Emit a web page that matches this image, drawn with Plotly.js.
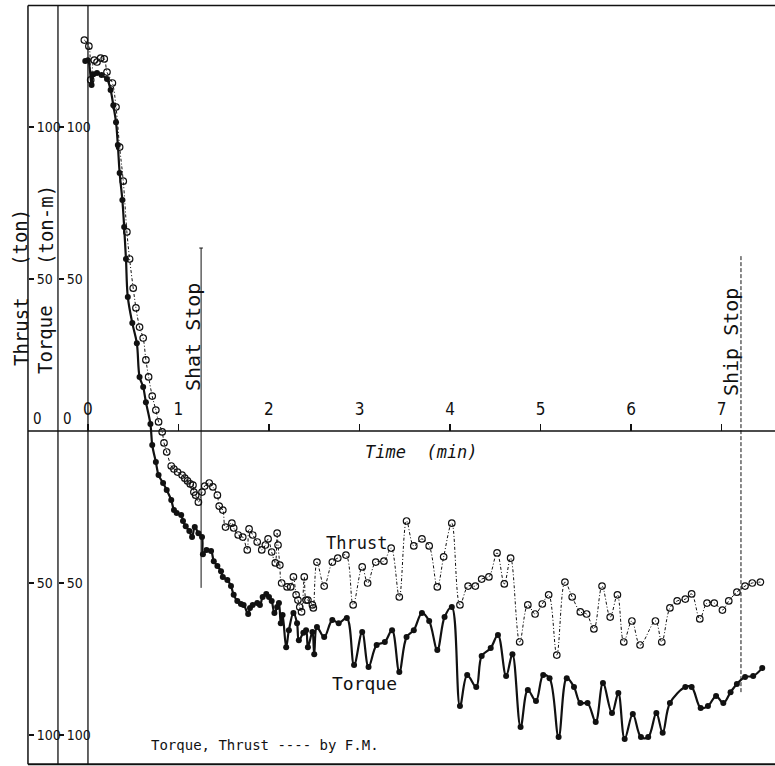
<!DOCTYPE html>
<html>
<head>
<meta charset="utf-8">
<script src="https://cdn.plot.ly/plotly-3.0.1.min.js"></script>
<style>html,body{margin:0;padding:0;background:#fff;}#chart{width:775px;height:766px;}</style>
</head>
<body>
<div id="chart"></div>
<script>
// ---- data (time in min, thrust in ton, torque in ton-m) ----
const thrustTime = [-0.04,0.01,0.03,0.07,0.10,0.14,0.18,0.21,0.27,0.31,0.35,0.39,0.43,0.46,0.50,0.53,0.57,0.61,0.64,0.67,0.71,0.75,0.78,0.82,0.84,0.87,0.92,0.95,0.99,1.04,1.07,1.10,1.13,1.16,1.17,1.19,1.22,1.26,1.29,1.34,1.38,1.43,1.45,1.49,1.52,1.59,1.61,1.66,1.71,1.76,1.78,1.82,1.87,1.92,1.96,1.99,2.03,2.07,2.09,2.10,2.12,2.14,2.20,2.24,2.27,2.30,2.32,2.34,2.36,2.39,2.41,2.43,2.48,2.49,2.53,2.61,2.70,2.76,2.85,2.93,3.03,3.09,3.18,3.27,3.35,3.44,3.52,3.60,3.69,3.77,3.86,3.93,4.02,4.11,4.20,4.28,4.35,4.43,4.52,4.60,4.67,4.77,4.86,4.94,5.02,5.09,5.18,5.27,5.35,5.44,5.51,5.59,5.68,5.77,5.85,5.92,6.01,6.10,6.27,6.34,6.43,6.51,6.60,6.67,6.76,6.84,6.92,7.01,7.08,7.17,7.26,7.34,7.43];
const thrustVal = [128.6,126.6,115.5,122.0,121.4,122.7,122.4,118.1,114.5,106.6,93.4,82.2,65.5,56.6,47.0,40.5,34.2,30.6,23.4,17.8,11.5,6.9,3.0,-0.3,-3.9,-6.9,-11.5,-12.5,-13.5,-14.5,-15.5,-16.4,-17.4,-17.8,-20.1,-21.1,-23.4,-20.1,-18.1,-17.1,-18.4,-21.1,-24.7,-26.0,-31.6,-30.3,-31.9,-34.2,-34.9,-39.1,-32.2,-34.2,-36.5,-39.1,-37.5,-35.5,-39.8,-43.4,-33.6,-37.5,-44.1,-50.0,-51.3,-51.3,-48.0,-53.9,-55.6,-57.9,-59.5,-48.0,-55.6,-55.6,-57.2,-58.2,-43.1,-51.0,-43.1,-41.8,-40.8,-57.2,-44.7,-50.0,-43.1,-42.8,-38.5,-54.6,-29.6,-37.8,-35.5,-37.8,-51.3,-41.4,-30.3,-57.2,-51.0,-51.0,-48.7,-48.0,-40.1,-50.3,-41.8,-69.4,-57.2,-60.2,-56.9,-53.9,-73.7,-49.7,-54.6,-59.5,-60.2,-65.1,-51.0,-61.2,-53.9,-69.4,-62.5,-70.4,-62.5,-69.4,-58.2,-55.9,-55.3,-53.6,-61.8,-56.6,-56.6,-58.9,-55.9,-53.0,-51.0,-50.0,-49.7];

const torqueTime = [-0.03,0.00,0.04,0.06,0.10,0.15,0.21,0.25,0.28,0.31,0.33,0.35,0.38,0.40,0.42,0.44,0.49,0.54,0.57,0.61,0.64,0.69,0.71,0.75,0.78,0.83,0.87,0.92,0.95,0.98,1.03,1.05,1.08,1.12,1.15,1.18,1.22,1.26,1.27,1.31,1.36,1.39,1.43,1.47,1.49,1.54,1.58,1.61,1.65,1.69,1.72,1.77,1.79,1.82,1.87,1.90,1.93,1.97,2.00,2.03,2.06,2.09,2.11,2.13,2.15,2.19,2.22,2.27,2.31,2.33,2.38,2.41,2.43,2.48,2.50,2.53,2.61,2.70,2.77,2.86,2.94,3.03,3.10,3.19,3.28,3.36,3.44,3.52,3.60,3.69,3.77,3.86,3.94,4.02,4.11,4.19,4.29,4.35,4.45,4.53,4.62,4.69,4.78,4.86,4.95,5.03,5.10,5.20,5.29,5.37,5.44,5.52,5.61,5.69,5.79,5.86,5.93,6.02,6.11,6.19,6.28,6.35,6.43,6.60,6.67,6.77,6.85,6.94,7.02,7.10,7.17,7.26,7.35,7.45];
const torqueVal = [121.7,122.0,113.8,117.4,117.8,117.1,115.8,112.2,107.2,101.6,94.1,84.9,76.0,67.1,56.6,44.1,35.5,28.9,17.8,14.5,9.5,2.3,-4.6,-10.2,-14.5,-17.1,-19.4,-22.7,-26.0,-27.0,-27.6,-29.6,-31.3,-32.9,-34.9,-31.6,-33.6,-34.9,-40.5,-39.1,-39.5,-42.8,-44.4,-46.1,-48.0,-49.0,-51.0,-53.9,-55.9,-56.9,-57.2,-60.2,-58.2,-57.2,-56.6,-57.2,-54.6,-53.6,-54.6,-55.9,-59.9,-57.9,-56.6,-63.2,-60.5,-71.1,-65.5,-59.9,-63.2,-68.8,-66.4,-65.5,-71.1,-66.1,-73.4,-64.5,-67.8,-62.2,-63.2,-61.5,-77.0,-66.1,-77.6,-70.4,-69.4,-65.5,-79.3,-67.8,-65.5,-59.9,-62.5,-72.0,-61.2,-57.9,-90.5,-80.3,-84.2,-74.0,-71.4,-67.1,-80.6,-73.4,-97.4,-85.2,-88.8,-80.3,-81.3,-100.7,-81.3,-84.2,-89.5,-89.5,-95.7,-82.9,-92.8,-86.2,-101.3,-93.1,-100.7,-100.7,-92.8,-99.3,-89.5,-84.2,-84.2,-91.1,-90.5,-87.2,-89.5,-85.9,-83.2,-80.9,-80.6,-78.0];

const xTickVals = [0,1,2,3,4,5,6,7];
const xTickText = ['0','1','2','3','4','5','6','7'];
const yTickVals = [100,50,-50,-100];
const yTickText = ['100','50','50','100'];
const shaftStopTime = 1.25;
const shipStopTime = 7.215;

// ---- layout geometry ----
const xRange = [-0.972, 7.591];
const yRange = [-110.2, 141.8];
const thrustAxisX = -0.663;
const torqueAxisX = -0.3315;
const frameTop = 140.0;
const frameBottom = -109.6;
const xFrac = v => (v - xRange[0]) / (xRange[1] - xRange[0]);
const yFrac = v => (v - yRange[0]) / (yRange[1] - yRange[0]);

const mono = 'DejaVu Sans Mono, monospace';
const narrow = 'Liberation Sans Narrow, DejaVu Sans Condensed, DejaVu Sans, sans-serif';
const ink = '#111';

const traces = [
  {
    x: thrustTime, y: thrustVal, type: 'scatter', mode: 'lines+markers', name: 'Thrust',
    line: {color: ink, width: 1, dash: '3px,2px,1px,2px', shape: 'spline', smoothing: 1},
    marker: {symbol: 'circle-open', size: 6.5, color: ink, line: {width: 1.2, color: ink}},
    hoverinfo: 'skip'
  },
  {
    x: torqueTime, y: torqueVal, type: 'scatter', mode: 'lines+markers', name: 'Torque',
    line: {color: ink, width: 2.2, shape: 'spline', smoothing: 1},
    marker: {symbol: 'circle', size: 6, color: ink},
    hoverinfo: 'skip'
  },
  {
    // torque values attached to the torque (ton-m) scale so that axis is drawn
    x: torqueTime, y: torqueVal, type: 'scatter', mode: 'markers', yaxis: 'y2',
    marker: {size: 1, opacity: 0}, hoverinfo: 'skip', showlegend: false
  }
];

function vline(x, y0, y1, w, dash) {
  return {type: 'line', xref: 'x', yref: 'y', x0: x, x1: x, y0: y0, y1: y1,
          line: {color: ink, width: w, dash: dash || 'solid'}};
}
function hline(y, x0, x1, w) {
  return {type: 'line', xref: 'x', yref: 'y', x0: x0, x1: x1, y0: y, y1: y,
          line: {color: ink, width: w}};
}

const shapes = [
  vline(thrustAxisX, frameBottom, frameTop, 1.5),
  vline(torqueAxisX, frameBottom, frameTop, 1.3),
  vline(0, frameBottom, frameTop, 1.3),
  hline(0, thrustAxisX, xRange[1], 1.5),
  hline(frameTop, thrustAxisX, xRange[1], 1.5),
  hline(frameBottom, thrustAxisX, xRange[1], 2),
  vline(shaftStopTime, -51.6, 60.2, 1),
  hline(60.2, shaftStopTime - 0.02, shaftStopTime + 0.02, 1),
  vline(shipStopTime, -85.9, 57.9, 1, '4px,2px')
];

function ann(text, px, py, size, angle, font, extra) {
  return Object.assign({
    text: text, xref: 'paper', yref: 'paper', x: px / 775, y: 1 - py / 766,
    xanchor: 'center', yanchor: 'middle', showarrow: false, textangle: angle || 0,
    font: {family: font || mono, size: size, color: ink}
  }, extra || {});
}

const annotations = [
  ann('Thrust', 21, 332, 19, -90),
  ann('(ton)', 20, 238, 19, -90),
  ann('Torque', 45, 340, 19, -90),
  ann('(ton-m)', 46, 225, 19, -90),
  ann('Shat Stop', 193, 337, 20, -90),
  ann('Ship Stop', 731, 342, 20, -90),
  ann('Time  (min)', 421, 452, 17, 0, mono, {}),
  ann('Thrust', 356, 543, 17, 0),
  ann('Torque', 364, 683, 18, 0),
  ann('Torque, Thrust ---- by F.M.', 265, 745, 14, 0),
  {text: '0', xref: 'x', yref: 'y', x: thrustAxisX, y: 0, xanchor: 'left', yanchor: 'bottom',
   xshift: 3, yshift: 1, showarrow: false, font: {family: narrow, size: 15, color: ink}},
  {text: '0', xref: 'x', yref: 'y', x: torqueAxisX, y: 0, xanchor: 'left', yanchor: 'bottom',
   xshift: 3, yshift: 1, showarrow: false, font: {family: narrow, size: 15, color: ink}}
];
annotations[6].font.style = 'italic';

const yAxisCommon = {
  range: yRange, showgrid: false, zeroline: false, showline: false,
  anchor: 'free', side: 'right', ticks: 'outside', ticklen: 5, tickwidth: 1.2, tickcolor: ink,
  tickvals: yTickVals, ticktext: yTickText, ticklabelstandoff: 0,
  tickfont: {family: narrow, size: 14, color: ink}, fixedrange: true
};

const layout = {
  width: 775, height: 766,
  margin: {l: 0, r: 0, t: 0, b: 0, pad: 0},
  paper_bgcolor: '#fff', plot_bgcolor: '#fff',
  showlegend: false,
  xaxis: {
    range: xRange, showgrid: false, zeroline: false, showline: false,
    anchor: 'free', position: yFrac(0), side: 'top',
    ticks: 'outside', ticklen: 7, tickwidth: 1.2, tickcolor: ink,
    tickvals: xTickVals, ticktext: xTickText, ticklabelstandoff: 2,
    tickfont: {family: narrow, size: 17, color: ink}, fixedrange: true
  },
  yaxis: Object.assign({}, yAxisCommon, {position: xFrac(thrustAxisX)}),
  yaxis2: Object.assign({}, yAxisCommon, {position: xFrac(torqueAxisX), overlaying: 'y'}),
  shapes: shapes,
  annotations: annotations
};

Plotly.newPlot('chart', traces, layout, {staticPlot: true, displayModeBar: false});
</script>
</body>
</html>
